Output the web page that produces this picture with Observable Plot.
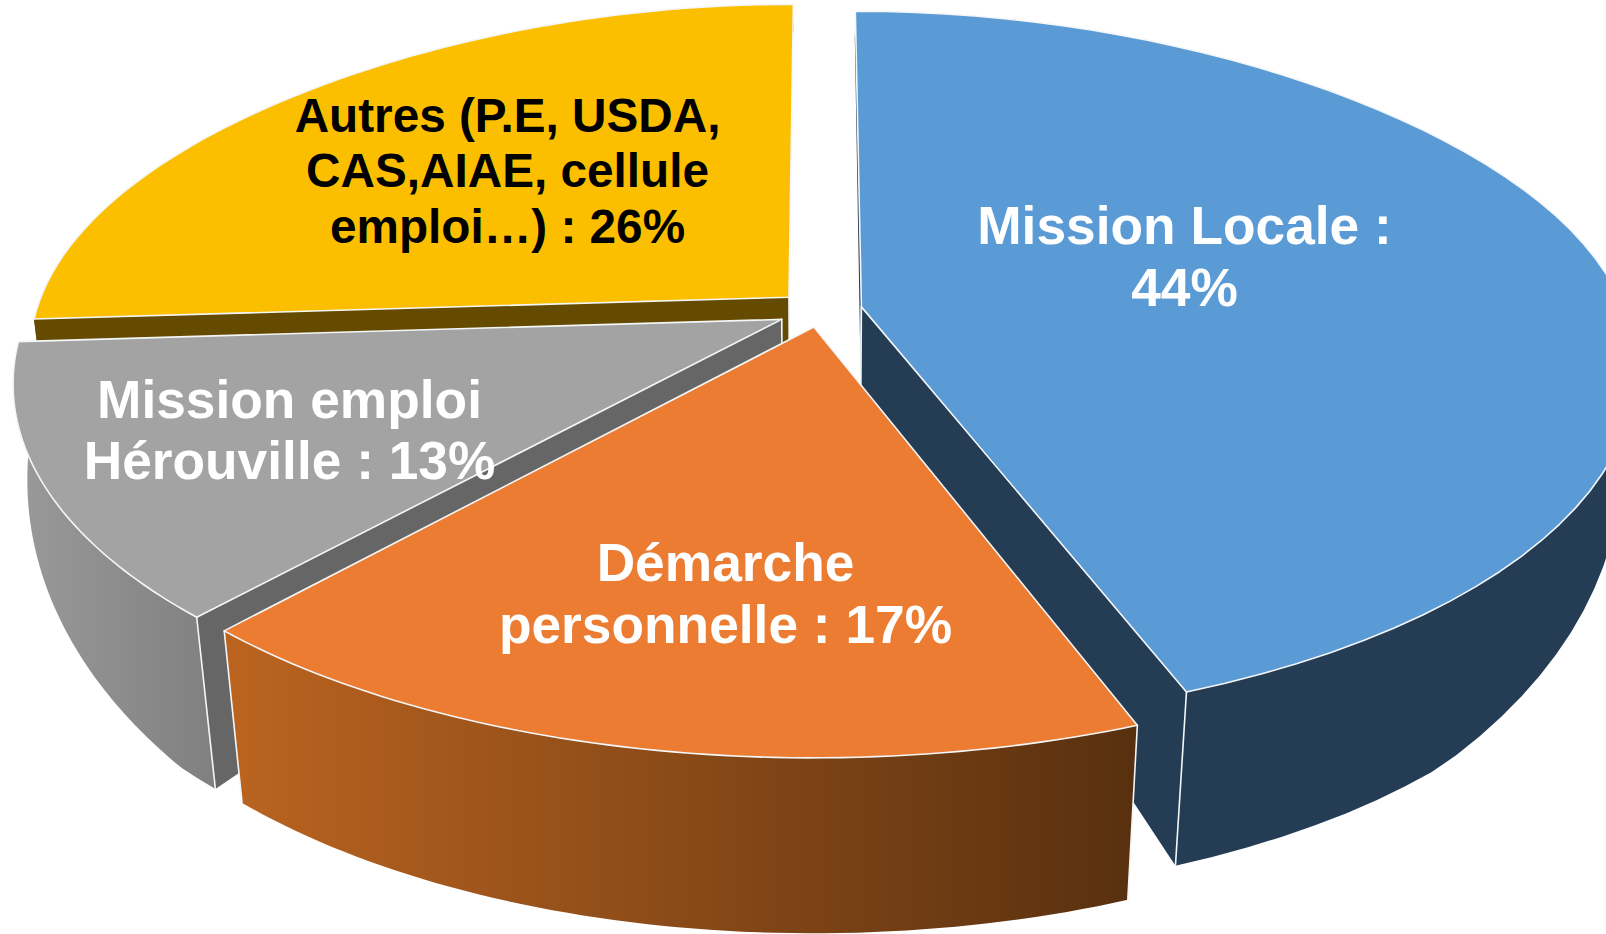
<!DOCTYPE html>
<html lang="fr">
<head>
<meta charset="utf-8">
<title>Répartition</title>
<style>html,body{margin:0;padding:0;background:#fff;overflow:hidden}svg{display:block}</style>
<script src="https://cdn.jsdelivr.net/npm/d3@7"></script>
<script src="https://cdn.jsdelivr.net/npm/@observablehq/plot@0.6"></script>
</head>
<body>
<div id="chart"></div>
<script>
// --- data ---
const categories = ["Mission Locale", "Démarche personnelle", "Mission emploi Hérouville", "Autres"];
const shares = [44, 17, 13, 26];
const labels = ["Mission Locale :\n44%", "Démarche\npersonnelle : 17%", "Mission emploi\nHérouville : 13%", "Autres (P.E, USDA,\nCAS,AIAE, cellule\nemploi…) : 26%"];

// --- styles ---
const topColors = ["#5b9bd5", "#eb7c31", "#a3a3a3", "#fbbf00"];
const wallColors = ["#243d55", "#5a300f", "#666666", "#654b00"];
const sideFills = ["#243d55", "url(#sideOrange)", "url(#sideGrey)", "#654b00"];
const labelColors = ["#fff", "#fff", "#fff", "#000"];
const labelSizes = [53.3, 53.3, 53.3, 47.7];
const labelLines = [1.15, 1.15, 1.15, 1.16];
const labelX = [1184, 725, 289, 507];
const labelY = [255, 592, 428.5, 169];

// --- projection of the tilted, exploded pie ---
const W = 1606, H = 934;
const cx = 819, cy = 310, Rright = 763, Rleft = 753, kR = 347, persp = 0.17;
const explodes = [0.056, 0.048, 0.056, 0.056];
const sliceScale = [1, 1.01, 1, 1];
const baseScale = d3.scaleLinear().domain([-0.7, 0]).range([0.97, 0.987]).clamp(true);
const wallH = d3.scaleLinear().domain([1, 0, -0.72, -1.1]).range([30, 83, 171, 176]);
const angleWarp = d3.scaleLinear().domain([0, 90, 158.4, 219.6, 266.4, 360]).range([0, 0, 1.1, 2.4, 0, 0]);
const rad = d => d * Math.PI / 180;
function project(X, Y, lower) {
  const w = 1 + persp * Y;
  let x = cx + (X < 0 ? Rleft : Rright) * X / w, y = cy - kR * Y / w;
  if (lower) { x = cx + (x - cx) * baseScale(Y); y += wallH(Y); }
  return {x, y};
}
const totals = d3.cumsum(shares), total = d3.sum(shares);
const slices = shares.map((s, i) => {
  const a0 = (i ? totals[i - 1] : 0) / total * 360, a1 = totals[i] / total * 360;
  const mid = rad((a0 + a1) / 2);
  const ox = explodes[i] * Math.sin(mid), oy = explodes[i] * Math.cos(mid);
  const pt = (a, r, lower) => {
    const t = rad(a + angleWarp(a));
    // the back half of the rim is slightly flatter than a true ellipse on the diagonals
    const flat = Math.cos(t) > 0 ? 1 - 0.015 * Math.sin(2 * t) ** 2 : 1;
    const rr = r * sliceScale[i] * flat;
    return project(ox + rr * Math.sin(t), oy + rr * Math.cos(t), lower);
  };
  const arc = lower => d3.range(0, 61).map(t => pt(a0 + (a1 - a0) * t / 60, 1, lower));
  return {i, a0, a1, pt, arc};
});
const closed = p => [...p, p[0]];
const face = (pts, fill, stroke) => Plot.line(closed(pts), {x: "x", y: "y", fill, stroke: stroke ? "#f4f6f8" : "none", strokeWidth: 1.6, strokeLinejoin: "round"});
const edge = (a, b) => Plot.line([a, b], {x: "x", y: "y", stroke: "#f4f6f8", strokeWidth: 1.6});

function sliceMarks(s, {startWall, endWall, edges}) {
  const {i, pt, arc, a0, a1} = s;
  const out = [];
  const wall = a => [pt(a, 0), pt(a, 1), pt(a, 1, true), pt(a, 0, true)];
  if (startWall) out.push(face(wall(a0), wallColors[i], false), edge(pt(a0, 0), pt(a0, 0, true)));
  if (endWall) out.push(face(wall(a1), wallColors[i], false), edge(pt(a1, 0), pt(a1, 0, true)));
  out.push(face([...arc(false), ...arc(true).reverse()], sideFills[i], false));
  for (const a of edges) out.push(edge(pt(a, 1), pt(a, 1, true)));
  out.push(face([pt(a0, 0), ...arc(false)], topColors[i], true));
  return out;
}

const marks = [
  ...sliceMarks(slices[3], {startWall: true, endWall: false, edges: []}),
  ...sliceMarks(slices[2], {startWall: true, endWall: false, edges: [slices[2].a0]}),
  ...sliceMarks(slices[0], {startWall: true, endWall: true, edges: [slices[0].a1]}),
  ...sliceMarks(slices[1], {startWall: false, endWall: false, edges: [slices[1].a0, slices[1].a1]})
];
labels.forEach((t, i) => marks.push(Plot.text([t], {
  x: () => labelX[i], y: () => labelY[i], text: d => d,
  fill: labelColors[i], fontSize: labelSizes[i], fontWeight: 700,
  fontFamily: "Liberation Sans", lineHeight: labelLines[i], textAnchor: "middle"
})));

const plot = Plot.plot({
  width: W, height: H, margin: 0,
  x: {domain: [0, W], range: [0, W], axis: null},
  y: {domain: [0, H], range: [0, H], axis: null},
  style: {background: "#fff"},
  marks
});
const ns = "http://www.w3.org/2000/svg";
const defs = document.createElementNS(ns, "defs");
const gradient = (id, from, to) => {
  const g = document.createElementNS(ns, "linearGradient");
  g.setAttribute("id", id); g.setAttribute("x1", "0"); g.setAttribute("x2", "1");
  [[0, from], [1, to]].forEach(([o, c]) => {
    const st = document.createElementNS(ns, "stop");
    st.setAttribute("offset", o); st.setAttribute("stop-color", c); g.appendChild(st);
  });
  defs.appendChild(g);
};
gradient("sideOrange", "#bb6420", "#58300f");
gradient("sideGrey", "#9a9a9a", "#808080");
plot.prepend(defs);
document.getElementById("chart").appendChild(plot);
</script>
</body>
</html>
